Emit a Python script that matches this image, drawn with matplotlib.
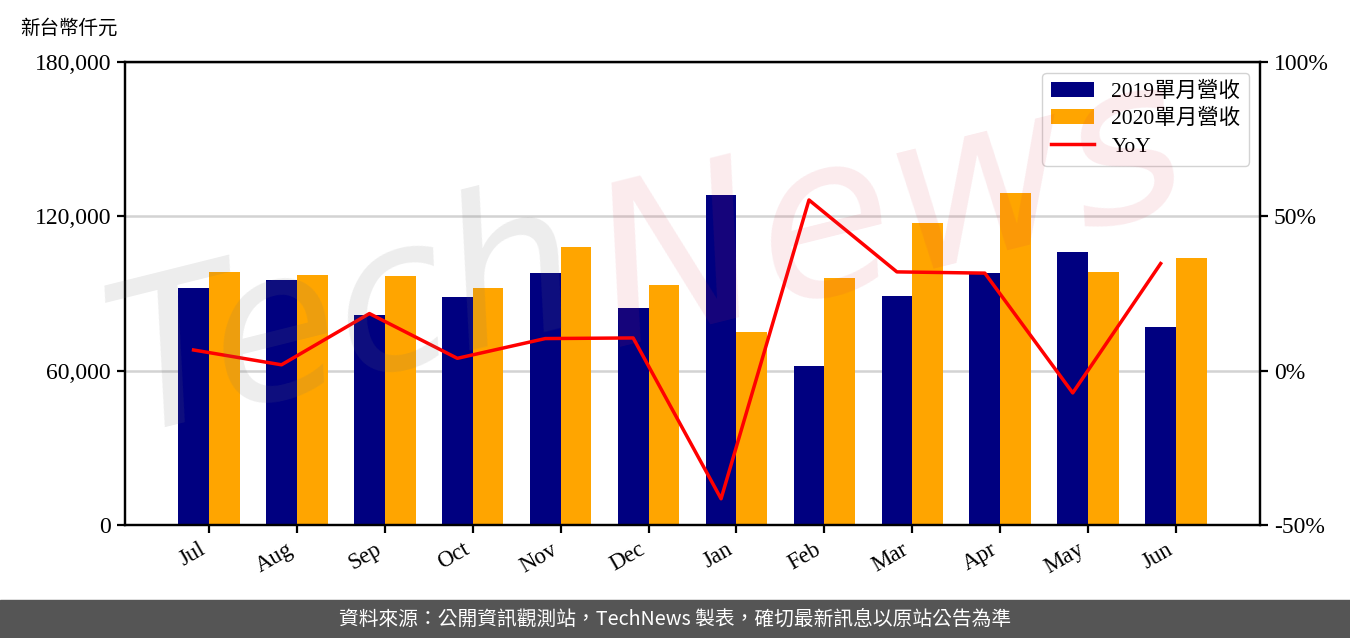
import numpy as np
import matplotlib
matplotlib.use("Agg")
import matplotlib.pyplot as plt
from matplotlib.ticker import FuncFormatter, FixedLocator

plt.rcParams['font.family'] = ['Liberation Serif', 'Noto Sans CJK TC', 'DejaVu Sans']

months = ["Jul", "Aug", "Sep", "Oct", "Nov", "Dec", "Jan", "Feb", "Mar", "Apr", "May", "Jun"]
rev_2019 = [92100, 95250, 81640, 88640, 97970, 84360, 128290, 61810, 89030, 97970, 106130, 76980]
rev_2020 = [98360, 97190, 96800, 92140, 108080, 93300, 75030, 96030, 117400, 129070, 98360, 103800]
yoy = [6.7, 1.9, 18.5, 4.0, 10.4, 10.6, -41.5, 55.3, 32.0, 31.6, -7.2, 34.7]

label_2019 = "2019單月營收"
label_2020 = "2020單月營收"
label_yoy = "YoY"
unit_label = "新台幣仟元"
footer = "資料來源：公開資訊觀測站，TechNews 製表，確切最新訊息以原站公告為準"

W, H = 1350, 638
fig = plt.figure(figsize=(W / 100, H / 100), dpi=100)
ax = fig.add_axes([125 / W, 1 - 525 / H, (1260 - 125) / W, (525 - 62) / H])
ax2 = ax.twinx()

x = np.arange(len(months))
bw = 0.35
b1 = ax.bar(x - bw / 2, rev_2019, width=bw, color='#000080', label=label_2019, zorder=2)
b2 = ax.bar(x + bw / 2, rev_2020, width=bw, color='#FFA500', label=label_2020, zorder=2)
ln, = ax2.plot(x - bw / 2, yoy, color='#FF0000', linewidth=2.5, label=label_yoy)

ax.set_xlim(-0.955, 11.955)
ax.set_ylim(0, 180000)
ax.yaxis.set_major_locator(FixedLocator([0, 60000, 120000, 180000]))
ax.yaxis.set_major_formatter(FuncFormatter(lambda v, p: f"{int(v):,}"))
ax2.set_ylim(-50, 100)
ax2.yaxis.set_major_locator(FixedLocator([-50, 0, 50, 100]))
ax2.yaxis.set_major_formatter(FuncFormatter(lambda v, p: f"{int(v)}%"))

ax.set_xticks(x)
ax.set_xticklabels(months, rotation=30, ha='right')
ax.grid(axis='y', color='#d3d3d3', linewidth=1.8, zorder=0)
ax.set_axisbelow(True)

for a in (ax, ax2):
    for s in a.spines.values():
        s.set_linewidth(1.6)
        s.set_color('black')
    a.tick_params(axis='both', direction='out', length=6, width=1.6, labelsize=17, pad=4)
ax.tick_params(axis='x', labelsize=16.5)

ax2.legend([b1, b2, ln], [label_2019, label_2020, label_yoy], loc='upper right',
           fontsize=15.5, handlelength=2.0, handleheight=0.7, handletextpad=0.8,
           labelspacing=0.35, borderaxespad=0.5, framealpha=0.85, edgecolor='#cccccc',
           fancybox=True)

fig.text(20 / W, 1 - 28 / H, unit_label, fontsize=14, ha='left', va='center',
         family=['Noto Sans CJK TC'])

# watermark
fig.text(345 / W, 1 - 320 / H, "Tech", fontsize=150, color=(0.45, 0.45, 0.45), alpha=0.13,
         rotation=14, ha='center', va='center', family=['DejaVu Sans'],
         style='italic', zorder=5)
fig.text(890 / W, 1 - 215 / H, "News", fontsize=160, color=(0.85, 0.2, 0.3), alpha=0.1,
         rotation=14, ha='center', va='center', family=['DejaVu Sans'],
         style='italic', zorder=5)

# footer band
fig.patches.append(plt.Rectangle((0, 0), 1, 38 / H, transform=fig.transFigure,
                                 color='#555555', zorder=0))
fig.text(0.5, 19 / H, footer, color='white', fontsize=14.2, ha='center', va='center',
         family=['Noto Sans CJK TC'])

fig.savefig("out.png", dpi=100)
